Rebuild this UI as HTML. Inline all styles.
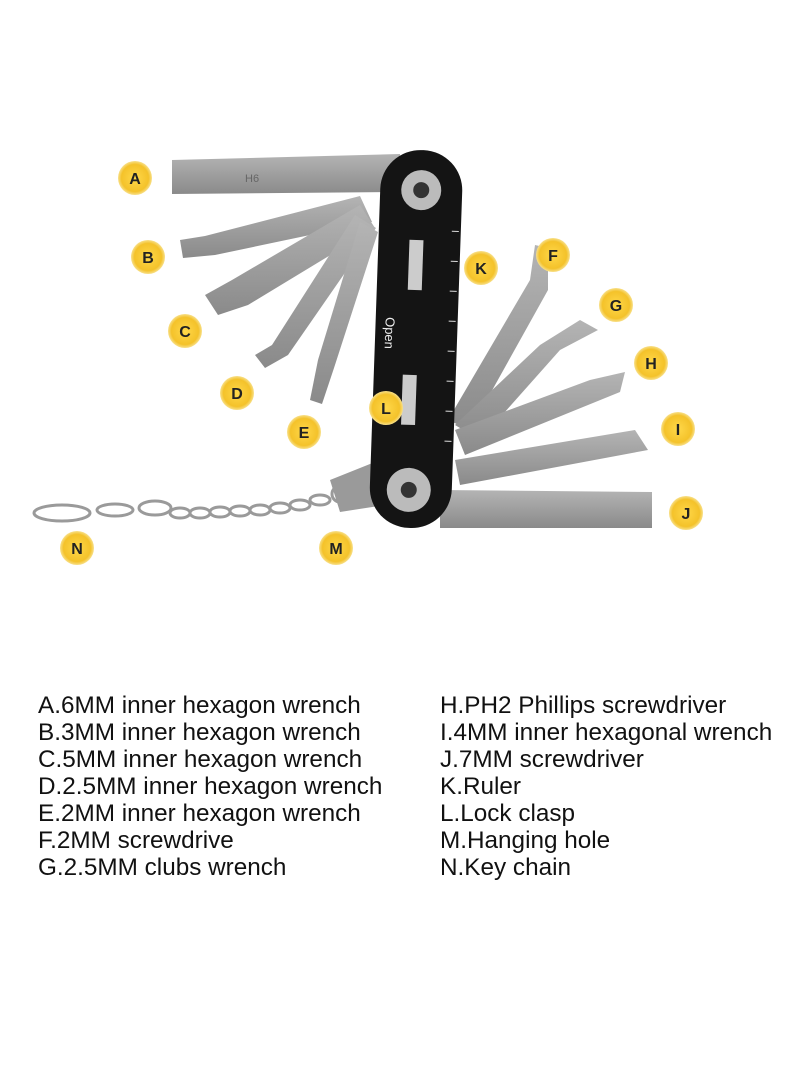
<!DOCTYPE html>
<html><head><meta charset="utf-8"><style>
html,body{margin:0;padding:0;background:#fff;}
body{width:800px;height:1091px;position:relative;overflow:hidden;font-family:"Liberation Sans","DejaVu Sans",sans-serif;}
.col{position:absolute;top:692px;font-size:24.3px;line-height:27px;color:#111;white-space:nowrap;}
</style></head><body>
<svg width="800" height="1091" style="position:absolute;left:0;top:0">
<defs>
<linearGradient id="g" x1="0" y1="0" x2="0" y2="1"><stop offset="0" stop-color="#b4b4b4"/><stop offset="1" stop-color="#8a8a8a"/></linearGradient>
<radialGradient id="y"><stop offset="0" stop-color="#ffd84a"/><stop offset="0.8" stop-color="#f4c22a"/><stop offset="1" stop-color="#f8e08a"/></radialGradient>
</defs>
<polygon points="172,160 400,154 400,192 172,194" fill="url(#g)"/>
<text x="245" y="182" font-size="11" fill="#666">H6</text>
<polygon points="180,240 205,236 360,196 372,222 215,255 183,258" fill="url(#g)"/>
<polygon points="205,295 232,280 360,205 375,228 248,305 218,315" fill="url(#g)"/>
<polygon points="255,355 272,345 355,215 376,228 288,355 265,368" fill="url(#g)"/>
<polygon points="310,400 318,360 360,222 378,232 334,368 322,404" fill="url(#g)"/>
<polygon points="535,245 548,248 548,290 470,430 448,420 530,280" fill="url(#g)"/>
<polygon points="580,320 598,330 560,350 480,440 455,425 540,345" fill="url(#g)"/>
<polygon points="455,430 590,380 625,372 620,392 465,455" fill="url(#g)"/>
<polygon points="455,460 635,430 648,450 460,485" fill="url(#g)"/>
<polygon points="440,490 652,492 652,528 440,528" fill="url(#g)"/>
<polygon points="330,480 380,460 385,505 340,512" fill="#9a9a9a"/>
<g fill="none" stroke="#9a9a9a" stroke-width="3">
<ellipse cx="62" cy="513" rx="28" ry="8"/>
<ellipse cx="115" cy="510" rx="18" ry="6"/>
<ellipse cx="155" cy="508" rx="16" ry="7"/>
<ellipse cx="180" cy="513" rx="10" ry="5"/><ellipse cx="200" cy="513" rx="10" ry="5"/>
<ellipse cx="220" cy="512" rx="10" ry="5"/><ellipse cx="240" cy="511" rx="10" ry="5"/>
<ellipse cx="260" cy="510" rx="10" ry="5"/><ellipse cx="280" cy="508" rx="10" ry="5"/>
<ellipse cx="300" cy="505" rx="10" ry="5"/><ellipse cx="320" cy="500" rx="10" ry="5"/>
<circle cx="340" cy="494" r="8"/>
</g>
<g transform="rotate(2 415 340)">
<rect x="375" y="150" width="82" height="378" rx="40" fill="#141414"/>
<circle cx="416" cy="190" r="20" fill="#bbb"/><circle cx="416" cy="190" r="8" fill="#333"/>
<circle cx="414" cy="490" r="22" fill="#bbb"/><circle cx="414" cy="490" r="8" fill="#333"/>
<rect x="406" y="240" width="14" height="50" fill="#ccc"/>
<rect x="404" y="375" width="14" height="50" fill="#ccc"/>
<text x="0" y="0" font-size="13" fill="#eee" transform="translate(385,318) rotate(90)">Open</text>
<g stroke="#ddd" stroke-width="1">
<line x1="448" y1="230" x2="455" y2="230"/><line x1="448" y1="260" x2="455" y2="260"/><line x1="448" y1="290" x2="455" y2="290"/><line x1="448" y1="320" x2="455" y2="320"/><line x1="448" y1="350" x2="455" y2="350"/><line x1="448" y1="380" x2="455" y2="380"/><line x1="448" y1="410" x2="455" y2="410"/><line x1="448" y1="440" x2="455" y2="440"/>
</g>
</g>
<g font-size="16" font-weight="bold" fill="#222" text-anchor="middle" font-family="Liberation Sans,sans-serif">
<circle cx="135" cy="178" r="17" fill="url(#y)"/><text x="135" y="184">A</text>
<circle cx="148" cy="257" r="17" fill="url(#y)"/><text x="148" y="263">B</text>
<circle cx="185" cy="331" r="17" fill="url(#y)"/><text x="185" y="337">C</text>
<circle cx="237" cy="393" r="17" fill="url(#y)"/><text x="237" y="399">D</text>
<circle cx="304" cy="432" r="17" fill="url(#y)"/><text x="304" y="438">E</text>
<circle cx="553" cy="255" r="17" fill="url(#y)"/><text x="553" y="261">F</text>
<circle cx="616" cy="305" r="17" fill="url(#y)"/><text x="616" y="311">G</text>
<circle cx="651" cy="363" r="17" fill="url(#y)"/><text x="651" y="369">H</text>
<circle cx="678" cy="429" r="17" fill="url(#y)"/><text x="678" y="435">I</text>
<circle cx="686" cy="513" r="17" fill="url(#y)"/><text x="686" y="519">J</text>
<circle cx="481" cy="268" r="17" fill="url(#y)"/><text x="481" y="274">K</text>
<circle cx="386" cy="408" r="17" fill="url(#y)"/><text x="386" y="414">L</text>
<circle cx="336" cy="548" r="17" fill="url(#y)"/><text x="336" y="554">M</text>
<circle cx="77" cy="548" r="17" fill="url(#y)"/><text x="77" y="554">N</text>
</g>
</svg>
<div class="col" style="left:38px">A.6MM inner hexagon wrench<br>B.3MM inner hexagon wrench<br>C.5MM inner hexagon wrench<br>D.2.5MM inner hexagon wrench<br>E.2MM inner hexagon wrench<br>F.2MM screwdrive<br>G.2.5MM clubs wrench</div>
<div class="col" style="left:440px">H.PH2 Phillips screwdriver<br>I.4MM inner hexagonal wrench<br>J.7MM screwdriver<br>K.Ruler<br>L.Lock clasp<br>M.Hanging hole<br>N.Key chain</div>
</body></html>
